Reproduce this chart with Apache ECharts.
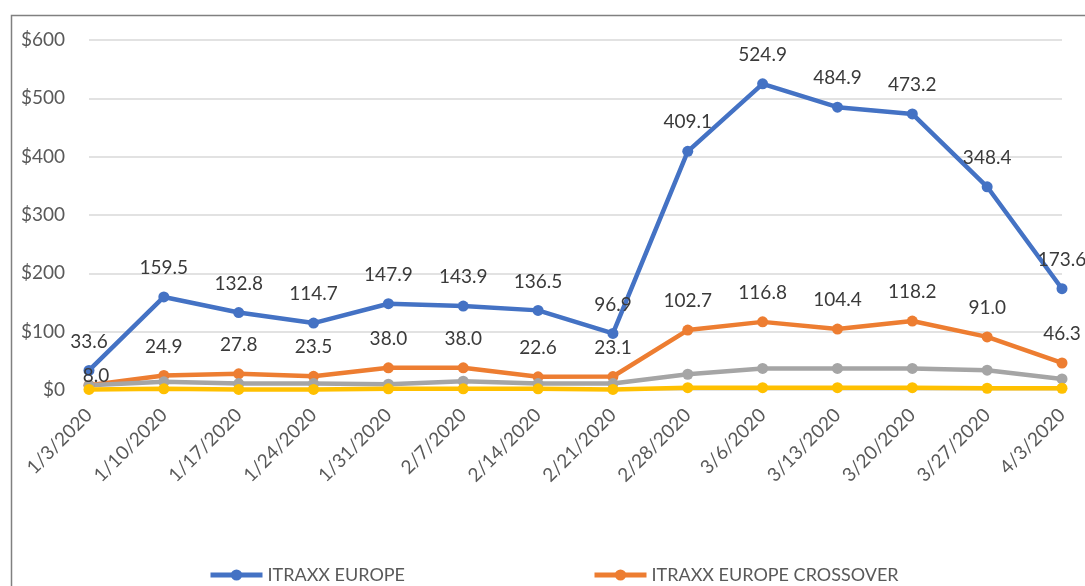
<!DOCTYPE html>
<html>
<head>
<meta charset="utf-8">
<script src="https://cdn.jsdelivr.net/npm/echarts@6/dist/echarts.min.js"></script>
<style>
  html, body { margin: 0; padding: 0; background: #fff; }
  #chart { width: 1085px; height: 586px; }
</style>
</head>
<body>
<div id="chart"></div>
<script>
// weekly dates
const dates = ['1/3/2020', '1/10/2020', '1/17/2020', '1/24/2020', '1/31/2020', '2/7/2020', '2/14/2020',
  '2/21/2020', '2/28/2020', '3/6/2020', '3/13/2020', '3/20/2020', '3/27/2020', '4/3/2020']
const europe = [33.6, 159.5, 132.8, 114.7, 147.9, 143.9, 136.5, 96.9, 409.1, 524.9, 484.9, 473.2, 348.4, 173.6]
const crossover = [8.0, 24.9, 27.8, 23.5, 38.0, 38.0, 22.6, 23.1, 102.7, 116.8, 104.4, 118.2, 91.0, 46.3]
// the two unlabelled series (legend rows cut off in the picture)
const series3 = [8, 14, 11, 11, 10, 15, 11, 11, 27, 37, 37, 37, 34, 19]
const series4 = [1, 2, 1, 1, 2, 2, 2, 1, 4, 4, 4, 4, 3, 3]
const yTicks = { min: 0, max: 600, step: 100 }

const names = ['ITRAXX EUROPE', 'ITRAXX EUROPE CROSSOVER', 'Series 3', 'Series 4']
const colors = ['#4472C4', '#ED7D31', '#A5A5A5', '#FFC000']
const font = 'Lato, "Open Sans", sans-serif'

function lineSeries(i, data, withLabels) {
  return {
    name: names[i], type: 'line', data,
    symbol: 'circle', symbolSize: 11,
    lineStyle: { color: colors[i], width: 4.5 },
    itemStyle: { color: colors[i] },
    label: {
      show: withLabels, position: 'top', distance: 14,
      color: '#3a3a3a', fontSize: 19, fontFamily: font,
      formatter: p => Number(p.value).toFixed(1)
    },
    emphasis: { disabled: true },
    animation: false
  }
}

const chart = echarts.init(document.getElementById('chart'))
const crossSeries = lineSeries(1, crossover.map((v, i) => i === 0 ? { value: v, label: { offset: [7, 20] } } : v), true)

chart.setOption({
  backgroundColor: '#fff',
  graphic: [{
    type: 'rect', silent: true,
    shape: { x: 11.5, y: 15.5, width: 1100, height: 600 },
    style: { fill: 'none', stroke: '#808080', lineWidth: 1.5 }
  }],
  grid: { left: 89, right: 23, top: 40, bottom: 196 },
  legend: {
    data: names.slice(0, 2), left: 203, top: 561,
    itemWidth: 52, itemHeight: 14, itemGap: 187,
    lineStyle: { width: 5 },
    textStyle: { color: '#595959', fontSize: 18, fontFamily: font }
  },
  xAxis: {
    type: 'category', data: dates, boundaryGap: false,
    axisLine: { show: false }, axisTick: { show: false },
    axisLabel: { color: '#595959', fontSize: 19, fontFamily: font, rotate: 45, interval: 0, margin: 22 }
  },
  yAxis: {
    type: 'value', min: yTicks.min, max: yTicks.max, interval: yTicks.step,
    axisLine: { show: false }, axisTick: { show: false },
    axisLabel: { color: '#595959', fontSize: 19, fontFamily: font, margin: 24, formatter: v => '$' + v },
    splitLine: { lineStyle: { color: '#d9d9d9', width: 1.5 } }
  },
  series: [
    lineSeries(0, europe, true),
    crossSeries,
    lineSeries(2, series3, false),
    lineSeries(3, series4, false)
  ]
})
</script>
</body>
</html>
